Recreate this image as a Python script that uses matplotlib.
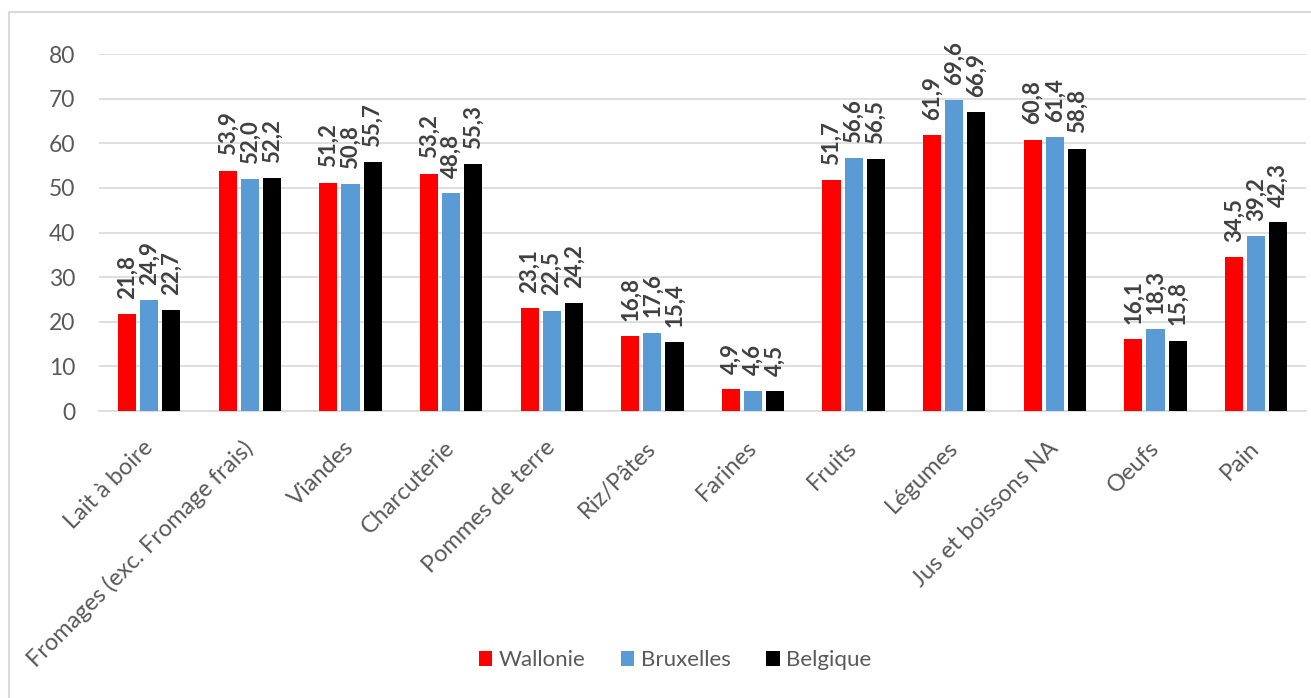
import matplotlib.pyplot as plt
import numpy as np
from matplotlib.patches import Rectangle

categories = ["Lait à boire", "Fromages (exc. Fromage frais)", "Viandes", "Charcuterie",
              "Pommes de terre", "Riz/Pâtes", "Farines", "Fruits", "Légumes",
              "Jus et boissons NA", "Oeufs", "Pain"]
wallonie = [21.8, 53.9, 51.2, 53.2, 23.1, 16.8, 4.9, 51.7, 61.9, 60.8, 16.1, 34.5]
bruxelles = [24.9, 52.0, 50.8, 48.8, 22.5, 17.6, 4.6, 56.6, 69.6, 61.4, 18.3, 39.2]
belgique = [22.7, 52.2, 55.7, 55.3, 24.2, 15.4, 4.5, 56.5, 66.9, 58.8, 15.8, 42.3]

series = [("Wallonie", wallonie, "#ff0000"),
          ("Bruxelles", bruxelles, "#5b9bd5"),
          ("Belgique", belgique, "#000000")]

plt.rcParams['font.family'] = ['Lato', 'DejaVu Sans']

fig = plt.figure(figsize=(13.11, 6.98), dpi=100)
ax = fig.add_axes([0.0755, 0.411, 0.921, 0.5116])

# thin grey frame around the chart area (runs off the right and bottom edges)
fig.patches.append(Rectangle((0.0065, -0.02), 1.0, 1.0028, transform=fig.transFigure,
                             fill=False, edgecolor="#d9d9d9", linewidth=1.5))

x = np.arange(len(categories))
w = 0.18
step = 0.22
for i, (name, vals, col) in enumerate(series):
    pos = x + (i - 1) * step
    bars = ax.bar(pos, vals, width=w, color=col, label=name, zorder=3)
    for b, v in zip(bars, vals):
        ax.annotate(f"{v:.1f}".replace(".", ","),
                    (b.get_x() + b.get_width() / 2, b.get_height()),
                    xytext=(0, 11), textcoords="offset points",
                    rotation=90, ha="center", va="bottom",
                    fontsize=16, fontweight="bold", color="#404040")

ax.set_xlim(-0.5, len(categories) - 0.5)
ax.set_ylim(0, 80)
ax.set_yticks(range(0, 81, 10))
ax.yaxis.grid(True, color="#d9d9d9", linewidth=1.2, zorder=0)
ax.set_axisbelow(True)
for s in ["top", "right", "left"]:
    ax.spines[s].set_visible(False)
ax.spines["bottom"].set_color("#d9d9d9")
ax.spines["bottom"].set_linewidth(1.2)
ax.tick_params(axis="y", length=0, labelsize=16.5, colors="#595959", pad=17)
ax.tick_params(axis="x", length=0, labelsize=17, colors="#595959", pad=24)
ax.set_xticks(x)
ax.set_xticklabels(categories, rotation=45, ha="right", va="center",
                   rotation_mode="anchor")

fig.legend(loc="center", bbox_to_anchor=(0.515, 0.054), ncol=3, frameon=False,
           fontsize=16, labelcolor="#595959", handlelength=0.6, handleheight=0.6,
           handletextpad=0.3, columnspacing=1.6)

fig.savefig("out.png", dpi=100)
